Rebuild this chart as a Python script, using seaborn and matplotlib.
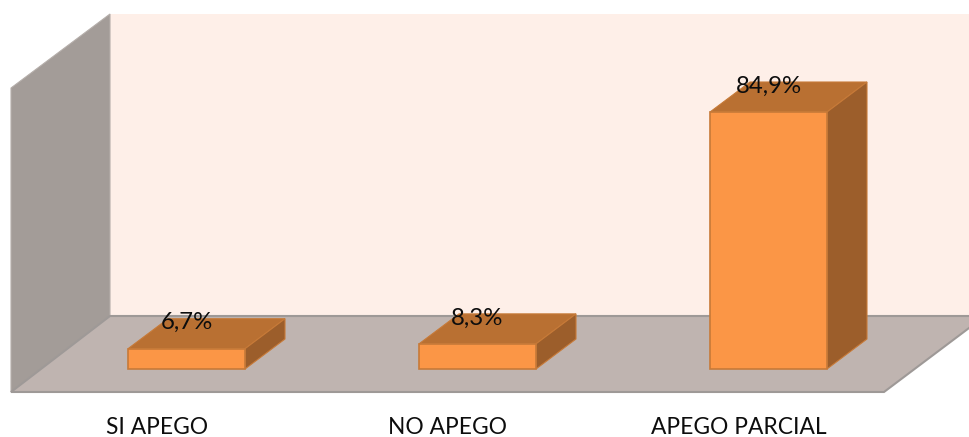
import matplotlib
matplotlib.use("Agg")
import matplotlib.pyplot as plt
from matplotlib.patches import Polygon
import pandas as pd
import seaborn as sns

categories = ["SI APEGO", "NO APEGO", "APEGO PARCIAL"]
percentages = [6.7, 8.3, 84.9]
value_labels = ["6,7%", "8,3%", "84,9%"]

WIDTH, HEIGHT = 970, 437
DEPTH_X, DEPTH_Y = 40, -30   # oblique projection of the bar depth, in pixels
BAR_PITCH = 291              # pixels between neighbouring categories
FIRST_BAR = 186.5            # pixel position of the first category
BASELINE = 369               # pixel row of value zero
PX_PER_UNIT = 3.027          # pixels per percentage point

FRONT = "#fb9646"
TOP = "#b97032"
SIDE = "#9c5e2b"
EDGE = "#c77a38"
INK = "#0d0d0d"

sns.set_theme(style="white")
plt.rcParams["font.family"] = ["Lato", "DejaVu Sans"]

fig = plt.figure(figsize=(WIDTH / 100, HEIGHT / 100), dpi=100, facecolor="white")

# Backdrop axes measured in pixels, holding the walls and the floor of the box
back = fig.add_axes([0, 0, 1, 1], zorder=0)
back.set_xlim(0, WIDTH)
back.set_ylim(HEIGHT, 0)
back.axis("off")

back.add_patch(Polygon([(110, 14), (970, 14), (970, 316), (110, 316)],
                       closed=True, fc="#feefe8", ec="none"))
back.add_patch(Polygon([(11, 88), (110, 14), (110, 316), (11, 392)],
                       closed=True, fc="#a39c98", ec="#b5aeaa", lw=0.8))
back.add_patch(Polygon([(11, 392), (110, 316), (985, 316), (884, 392)],
                       closed=True, fc="#bfb4b0", ec="#9e9997", lw=1.5))

# Value axes sharing the same canvas: the bars' front faces come from seaborn
ax = fig.add_axes([0, 0, 1, 1], zorder=1)
ax.patch.set_alpha(0)
frame = pd.DataFrame({"category": categories, "percentage": percentages})
sns.barplot(data=frame, x="category", y="percentage", ax=ax, color=FRONT,
            saturation=1, width=0.402, edgecolor=EDGE, linewidth=1.2, zorder=3)
ax.set_xlim(-FIRST_BAR / BAR_PITCH, (WIDTH - FIRST_BAR) / BAR_PITCH)
ax.set_ylim(-(HEIGHT - BASELINE) / PX_PER_UNIT, BASELINE / PX_PER_UNIT)
ax.axis("off")

# Extrude each bar: top and side faces follow from the bar's own position
for patch, label in zip(ax.patches, value_labels):
    x0, x1 = patch.get_x(), patch.get_x() + patch.get_width()
    (px0, py_base), (px1, py_top) = back.transData.inverted().transform(
        ax.transData.transform([(x0, 0), (x1, patch.get_height())]))
    back.add_patch(Polygon([(px0, py_top), (px1, py_top),
                            (px1 + DEPTH_X, py_top + DEPTH_Y),
                            (px0 + DEPTH_X, py_top + DEPTH_Y)],
                           closed=True, fc=TOP, ec=EDGE, lw=0.8, zorder=2))
    back.add_patch(Polygon([(px1, py_top), (px1 + DEPTH_X, py_top + DEPTH_Y),
                            (px1 + DEPTH_X, py_base + DEPTH_Y), (px1, py_base)],
                           closed=True, fc=SIDE, ec=EDGE, lw=0.8, zorder=2))
    ax.annotate(label, (x0 + patch.get_width() / 2, patch.get_height()),
                xytext=(0, 26), textcoords="offset pixels", ha="center",
                va="center", fontsize=17.3, color=INK, zorder=5)

# Category names below the floor, set slightly left of their bars
for i, name in enumerate(categories):
    ax.annotate(name, (i, 0), xytext=(-29.5, -59), textcoords="offset pixels",
                ha="center", va="center", fontsize=16.4, color=INK,
                annotation_clip=False)

fig.savefig("out.png", dpi=100, facecolor="white")
